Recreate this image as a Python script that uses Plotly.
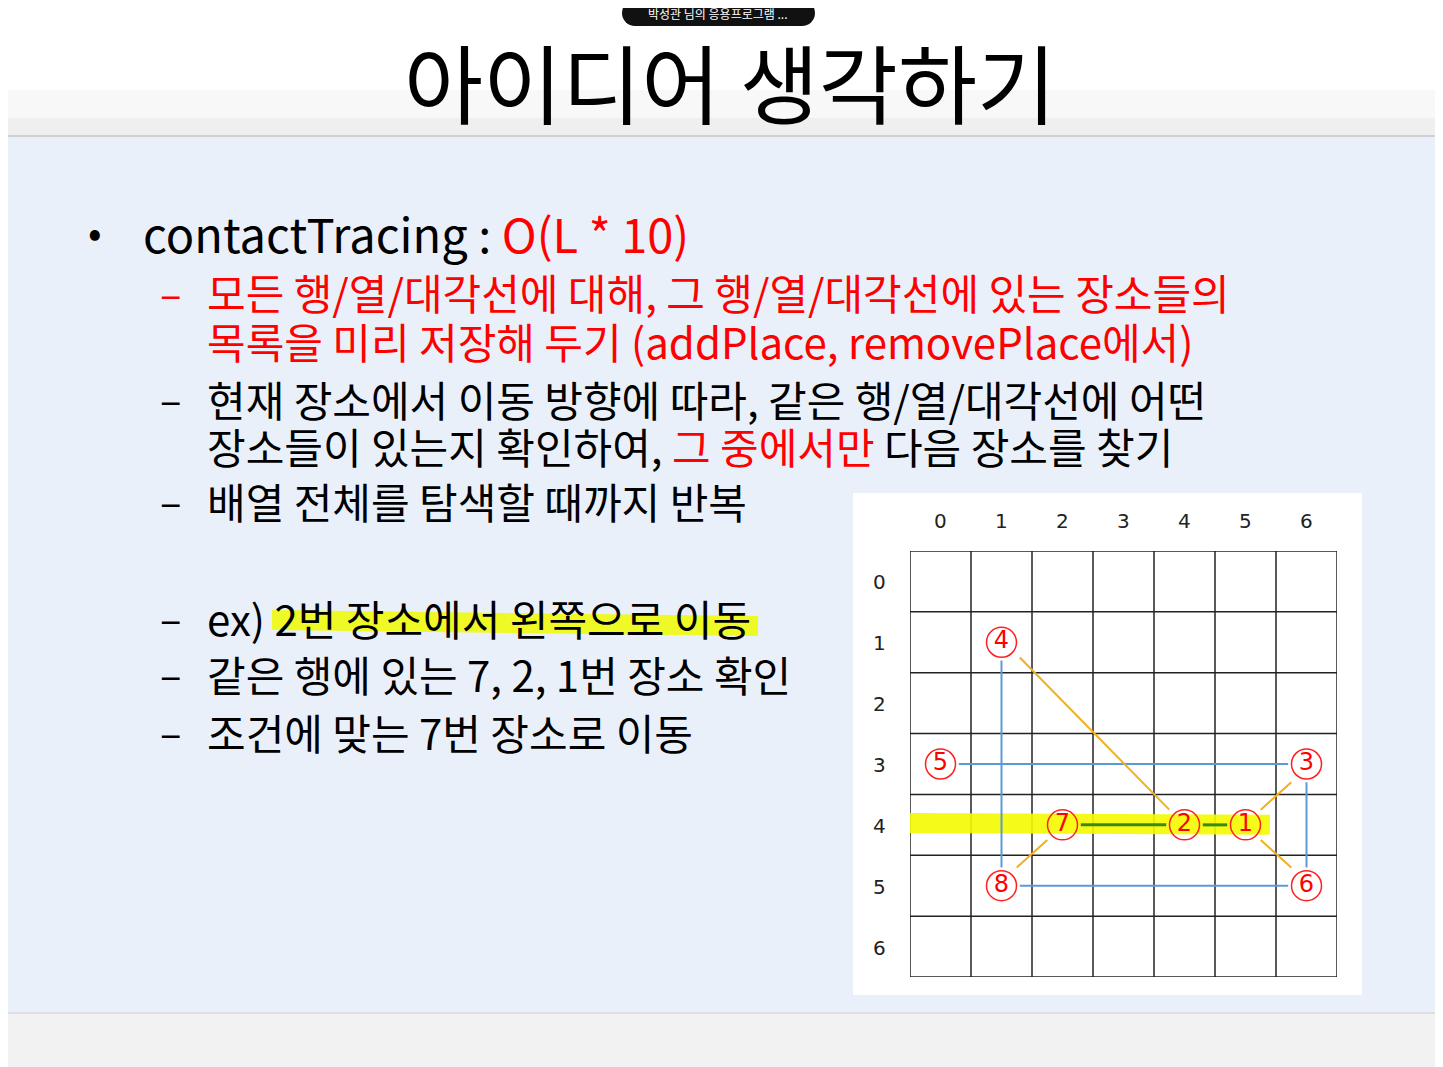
import plotly.graph_objects as go

W, H = 1443, 1067
OFF = 8  # page body margin of the html
FONT = "Noto Sans CJK KR"

# grid data
grid_n = 7
tick_labels = [str(i) for i in range(grid_n)]
place_ids = ["1", "2", "3", "4", "5", "6", "7", "8"]
place_col = [5, 4, 6, 1, 0, 6, 2, 1]
place_row = [4, 4, 3, 1, 3, 5, 4, 5]

# connecting segments (col0, row0, col1, row1)
blue_segs = [(1, 1.3, 1, 4.7), (0.3, 3, 5.7, 3), (6, 3.3, 6, 4.7), (1.3, 5, 5.7, 5)]
orange_segs = [(1.3, 1.25, 3.75, 3.75), (5.75, 3.3, 5.25, 3.75),
               (5.25, 4.25, 5.75, 4.7), (1.75, 4.25, 1.25, 4.7)]
green_segs = [(2.3, 4, 3.7, 4), (4.3, 4, 4.7, 4)]
highlight_seg = (-0.5, 3.97, 5.4, 4.0)

# slide text
dash_lines = [
    (292, '<span style="color:#ff0000">모든 행/열/대각선에 대해, 그 행/열/대각선에 있는 장소들의</span>', True),
    (340, '<span style="color:#ff0000">목록을 미리 저장해 두기 (addPlace, removePlace에서)</span>', False),
    (398, '현재 장소에서 이동 방향에 따라, 같은 행/열/대각선에 어떤', True),
    (445, '장소들이 있는지 확인하여, <span style="color:#ff0000">그 중에서만</span> 다음 장소를 찾기', False),
    (500, '배열 전체를 탐색할 때까지 반복', True),
    (617, 'ex) 2번 장소에서 왼쪽으로 이동', True),
    (673, '같은 행에 있는 7, 2, 1번 장소 확인', True),
    (731, '조건에 맞는 7번 장소로 이동', True),
]

# grid edges in screen pixels
GX0, GX1, GY0, GY1 = 910, 1337, 551, 977
cell = (GX1 - GX0) / grid_n


def px_x(v):
    return (v - OFF) / W


def px_y(v):
    return 1 - (v - OFF) / H


fig = go.Figure()

gx, gy = [], []
for i in range(grid_n + 1):
    gx += [i - 0.5, i - 0.5, None, -0.5, 6.5, None]
    gy += [-0.5, 6.5, None, i - 0.5, i - 0.5, None]
fig.add_trace(go.Scatter(x=gx, y=gy, mode="lines", line=dict(color="#222", width=1.5),
                         hoverinfo="skip", showlegend=False))

hx0, hy0, hx1, hy1 = highlight_seg
fig.add_trace(go.Scatter(x=[hx0, hx1], y=[hy0, hy1], mode="lines",
                         line=dict(color="rgba(245,250,0,0.9)", width=20),
                         hoverinfo="skip", showlegend=False))


def add_segs(segs, color, width):
    xs, ys = [], []
    for a, b, c, d in segs:
        xs += [a, c, None]
        ys += [b, d, None]
    fig.add_trace(go.Scatter(x=xs, y=ys, mode="lines", line=dict(color=color, width=width),
                             hoverinfo="skip", showlegend=False))


add_segs(blue_segs, "#5b9bd5", 2)
add_segs(orange_segs, "#f0b020", 2)
add_segs(green_segs, "#3a8a10", 3)

fig.add_trace(go.Scatter(
    x=place_col, y=place_row, mode="markers+text", text=place_ids,
    marker=dict(size=30, color="rgba(255,255,255,0)", line=dict(color="#ff2020", width=1.5)),
    textfont=dict(family="DejaVu Sans", size=24, color="#ff0000"),
    hoverinfo="skip", showlegend=False))

fig.update_xaxes(range=[-0.5, 6.5], domain=[px_x(GX0), px_x(GX1)], visible=False, fixedrange=True)
fig.update_yaxes(range=[6.5, -0.5], domain=[px_y(GY1), px_y(GY0)], visible=False, fixedrange=True)


def text_ann(x, y, text, size, color="#000", xanchor="center", family=FONT):
    return dict(x=px_x(x), y=px_y(y), xref="paper", yref="paper", text=text, showarrow=False,
                xanchor=xanchor, yanchor="middle", font=dict(family=family, size=size, color=color))


ann = []
for i, t in enumerate(tick_labels):
    ann.append(text_ann(GX0 + cell * (i + 0.5), 521, t, 20, "#222", family="DejaVu Sans"))
    ann.append(text_ann(880, GY0 + cell * (i + 0.5), t, 20, "#222", family="DejaVu Sans"))

ann.append(text_ann(730, 80, "아이디어 생각하기", 86))
ann.append(text_ann(718, 13, "박성관 님의 응용프로그램 ...", 12, "#fff"))
ann.append(text_ann(95, 230, "•", 40))
ann.append(text_ann(141, 232, 'contactTracing : <span style="color:#ff0000">O(L * 10)</span>', 47,
                    xanchor="left"))
for y, txt, dash in dash_lines:
    red = "ff0000" in txt[:40]
    if dash:
        ann.append(text_ann(158, y, "–", 40, "#ff0000" if red else "#000", xanchor="left"))
    ann.append(text_ann(205, y, txt, 42, xanchor="left"))


def rect(x0, x1, y0, y1, color):
    return dict(type="rect", xref="paper", yref="paper", x0=px_x(x0), x1=px_x(x1),
                y0=px_y(y1), y1=px_y(y0), fillcolor=color, line_width=0, layer="below")


def line(x0, x1, y0, y1, color, width, layer="below"):
    return dict(type="line", xref="paper", yref="paper", x0=px_x(x0), x1=px_x(x1),
                y0=px_y(y0), y1=px_y(y1), line=dict(color=color, width=width), layer=layer)


shapes = [
    rect(0, W + OFF, 136, 1013, "#eaf0fa"),
    rect(0, W + OFF, 90, 136, "#f8f8f8"),
    rect(0, W + OFF, 118, 136, "#efefef"),
    line(0, W + OFF, 136, 136, "#d0d0d0", 2),
    rect(0, W + OFF, 1013, H + OFF, "#f2f2f2"),
    line(0, W + OFF, 1013, 1013, "#d8d8d8", 1.5),
    rect(853, 1362, 493, 995, "#ffffff"),
    dict(type="path", xref="paper", yref="paper", layer="below", fillcolor="#111111", line_width=0,
         path=f"M {px_x(635)},{px_y(0)} L {px_x(802)},{px_y(0)} "
              f"L {px_x(802)},{px_y(26)} L {px_x(635)},{px_y(26)} Z"),
    dict(type="circle", xref="paper", yref="paper", layer="below", fillcolor="#111111", line_width=0,
         x0=px_x(622), x1=px_x(648), y0=px_y(26), y1=px_y(0)),
    dict(type="circle", xref="paper", yref="paper", layer="below", fillcolor="#111111", line_width=0,
         x0=px_x(789), x1=px_x(815), y0=px_y(26), y1=px_y(0)),
    line(1, 1, 0, H + OFF, "#555", 2, "above"),
    line(1438, 1438, 0, H + OFF, "#555", 2, "above"),
    line(272, 758, 620, 626, "rgba(240,250,0,0.85)", 20),
]

fig.update_layout(width=W, height=H, margin=dict(l=0, r=0, t=0, b=0),
                  paper_bgcolor="#ffffff", plot_bgcolor="rgba(0,0,0,0)",
                  annotations=ann, shapes=shapes)

fig.write_html("out.html")
